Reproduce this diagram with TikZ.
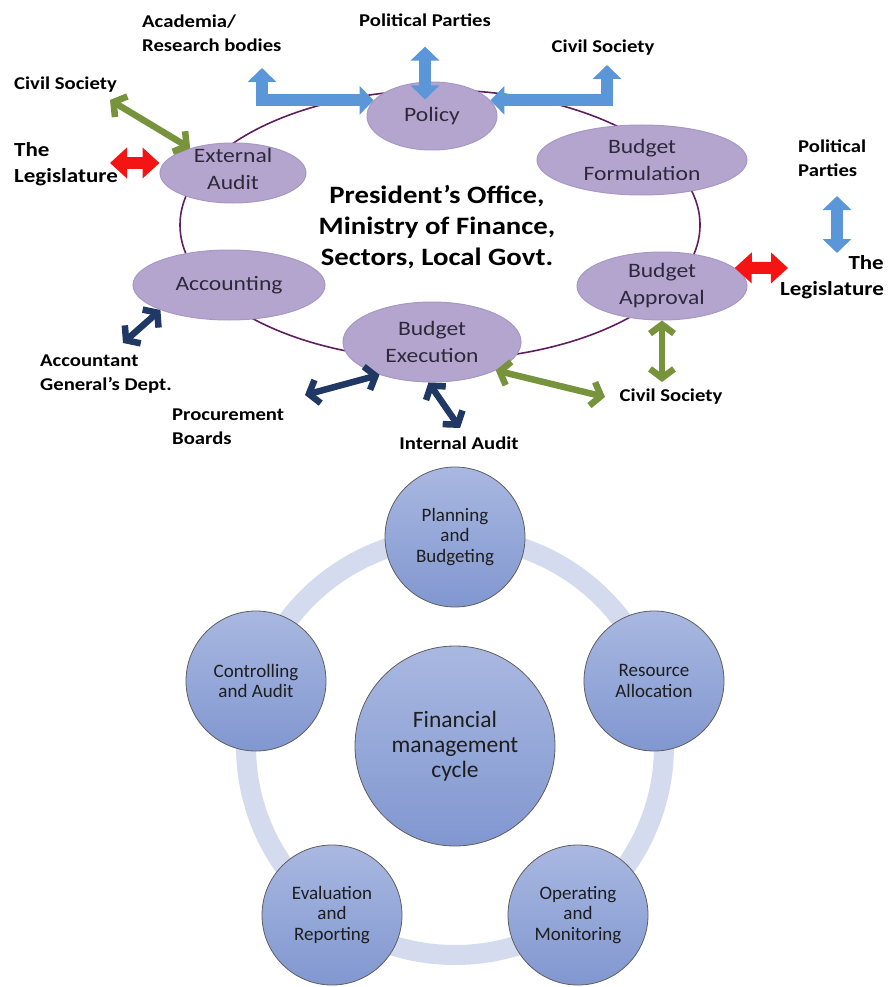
\documentclass[tikz,border=0pt]{standalone}
\usepackage{fontspec}
\setmainfont{Carlito}
\newfontfamily\widefont{Carlito}[FakeStretch=1.15]
\usepackage{tikz}
\usetikzlibrary{arrows.meta,shapes.geometric}
\definecolor{stagefill}{HTML}{B4A5CE}
\definecolor{stageedge}{HTML}{A797C6}
\definecolor{stagetext}{HTML}{2F283C}
\definecolor{loopline}{HTML}{5E1F60}
\definecolor{arrowblue}{HTML}{5B97D8}
\definecolor{arrowred}{HTML}{F41414}
\definecolor{arrowgreen}{HTML}{77933C}
\definecolor{arrownavy}{HTML}{1F3864}
\definecolor{ringblue}{HTML}{D5DBEE}
\definecolor{phasetop}{HTML}{A9B8E1}
\definecolor{phasebottom}{HTML}{8197D0}
\definecolor{phaseedge}{HTML}{5E5E5E}
\definecolor{phasetext}{HTML}{1E1E1E}
\tikzset{
    stage/.style = {ellipse, fill=stagefill, draw=stageedge, line width=1pt, inner sep=0pt},
    stage-title/.style = {text=stagetext, align=center, inner sep=0pt, font=\widefont\fontsize{20.5}{27}\selectfont},
    actor/.style = {text=black, inner sep=0pt, font=\widefont\bfseries\fontsize{18}{24}\selectfont},
    big-actor/.style = {actor, font=\widefont\bfseries\fontsize{20}{26}\selectfont},
    blue-arrow/.style = {draw=arrowblue, line width=12pt, {Triangle[length=14pt,width=28pt]}-{Triangle[length=14pt,width=28pt]}},
    red-arrow/.style = {draw=arrowred, line width=12pt, {Triangle[length=17pt,width=30pt]}-{Triangle[length=17pt,width=30pt]}},
    link-arrow/.style = {line width=6.5pt, {Straight Barb[length=9pt,width=24pt]}-{Straight Barb[length=9pt,width=24pt]}},
    phase/.style = {circle, minimum size=140pt, draw=phaseedge, line width=0.8pt, top color=phasetop, bottom color=phasebottom, text=phasetext, align=center, font=\fontsize{19}{20.5}\selectfont},
}
\begin{document}
\begin{tikzpicture}[x=1pt,y=-1pt]
\useasboundingbox (0,0) rectangle (887,987);

% budget cycle
\node[draw=loopline, line width=1.6pt, ellipse, minimum width=520pt, minimum height=270pt] (loop) at (440,225) {};
\node[stage, minimum width=130pt, minimum height=68pt] (policy) at (432,116) {};
\node[stage, minimum width=146pt, minimum height=60pt] (audit) at (233,173) {};
\node[stage, minimum width=210pt, minimum height=70pt] (formulation) at (642,160) {};
\node[stage, minimum width=192pt, minimum height=70pt] (accounting) at (229,285) {};
\node[stage, minimum width=170pt, minimum height=68pt] (approval) at (662,286) {};
\node[stage, minimum width=178pt, minimum height=80pt] (execution) at (432,342) {};
\node[stage-title] (policy-title) at (policy) {Policy};
\node[stage-title] (audit-title) at (233,169) {External\\Audit};
\node[stage-title] (formulation-title) at (formulation) {Budget\\Formulation};
\node[stage-title] (accounting-title) at (accounting) {Accounting};
\node[stage-title] (approval-title) at (approval) {Budget\\Approval};
\node[stage-title] (execution-title) at (execution) {Budget\\Execution};
\node[text=black, align=center, font=\widefont\bfseries\fontsize{25}{31}\selectfont] (office) at (437,227) {President’s Office,\\Ministry of Finance,\\Sectors, Local Govt.};

\node[actor, anchor=west, align=left] (academia) at (142,33) {Academia/\\Research bodies};
\node[actor] (parties-top) at (425,20) {Political Parties};
\node[actor] (society-top) at (603,48) {Civil Society};
\node[actor, anchor=west] (society-left) at (14,85) {Civil Society};
\node[big-actor, anchor=west, align=left] (legislature-left) at (14,164) {The\\Legislature};
\node[actor, anchor=west, align=left] (parties-right) at (798,158) {Political\\Parties};
\node[big-actor, anchor=east, align=right] (legislature-right) at (884,277) {The\\Legislature};
\node[actor, anchor=west, align=left] (accountant) at (40,374) {Accountant\\General’s Dept.};
\node[actor, anchor=west, align=left] (procurement) at (172,427) {Procurement\\Boards};
\node[actor] (internal) at (459,443) {Internal Audit};
\node[actor] (society-bottom) at (671,397) {Civil Society};

\coordinate (academia-end) at (262,68);
\coordinate (society-top-end) at (607,65);
\coordinate (parties-right-top) at (837,196);
\coordinate (parties-right-bottom) at (837,253);
\coordinate (society-left-end) at (110,100);
\coordinate (legislature-left-end) at (110,163);
\coordinate (legislature-right-end) at (788,268);
\coordinate (society-bottom-top) at (662,382);
\coordinate (society-bottom-end) at (605,397);
\coordinate (accountant-end) at (123,343);
\coordinate (procurement-end) at (305,395);
\coordinate (internal-end) at (460,428);

\draw[blue-arrow] (academia-end) |- (policy.165);
\draw[blue-arrow] (society-top-end) |- (policy.15);
\draw[blue-arrow, shorten <=20pt, shorten >=-18pt] (parties-top.south) -- (parties-top.south |- policy.north);
\draw[blue-arrow] (parties-right-top) -- (parties-right-bottom);
\draw[red-arrow] (legislature-left-end) -- (audit.west |- legislature-left-end);
\draw[red-arrow] (approval.14) -- (legislature-right-end);
\draw[link-arrow, draw=arrowgreen] (society-left-end) -- (audit.150);
\draw[link-arrow, draw=arrowgreen] (approval.south) -- (society-bottom-top);
\draw[link-arrow, draw=arrowgreen] (execution.-24) -- (society-bottom-end);
\draw[link-arrow, draw=arrownavy] (accounting.200) -- (accountant-end);
\draw[link-arrow, draw=arrownavy] (execution.212) -- (procurement-end);
\draw[link-arrow, draw=arrownavy] (execution.265) -- (internal-end);

% financial management cycle
\node[circle, draw=ringblue, line width=20pt, minimum size=418pt] (ring) at (455,746) {};
\node[phase] (planning) at (455,537) {Planning\\and\\Budgeting};
\node[phase] (allocation) at (654,681) {Resource\\Allocation};
\node[phase] (operating) at (578,915) {Operating\\and\\Monitoring};
\node[phase] (evaluation) at (332,915) {Evaluation\\and\\Reporting};
\node[phase] (controlling) at (256,681) {Controlling\\and Audit};
\node[phase, minimum size=200pt, font=\fontsize{23.5}{25}\selectfont] (core) at (455,746) {Financial\\management\\cycle};
\end{tikzpicture}
\end{document}
